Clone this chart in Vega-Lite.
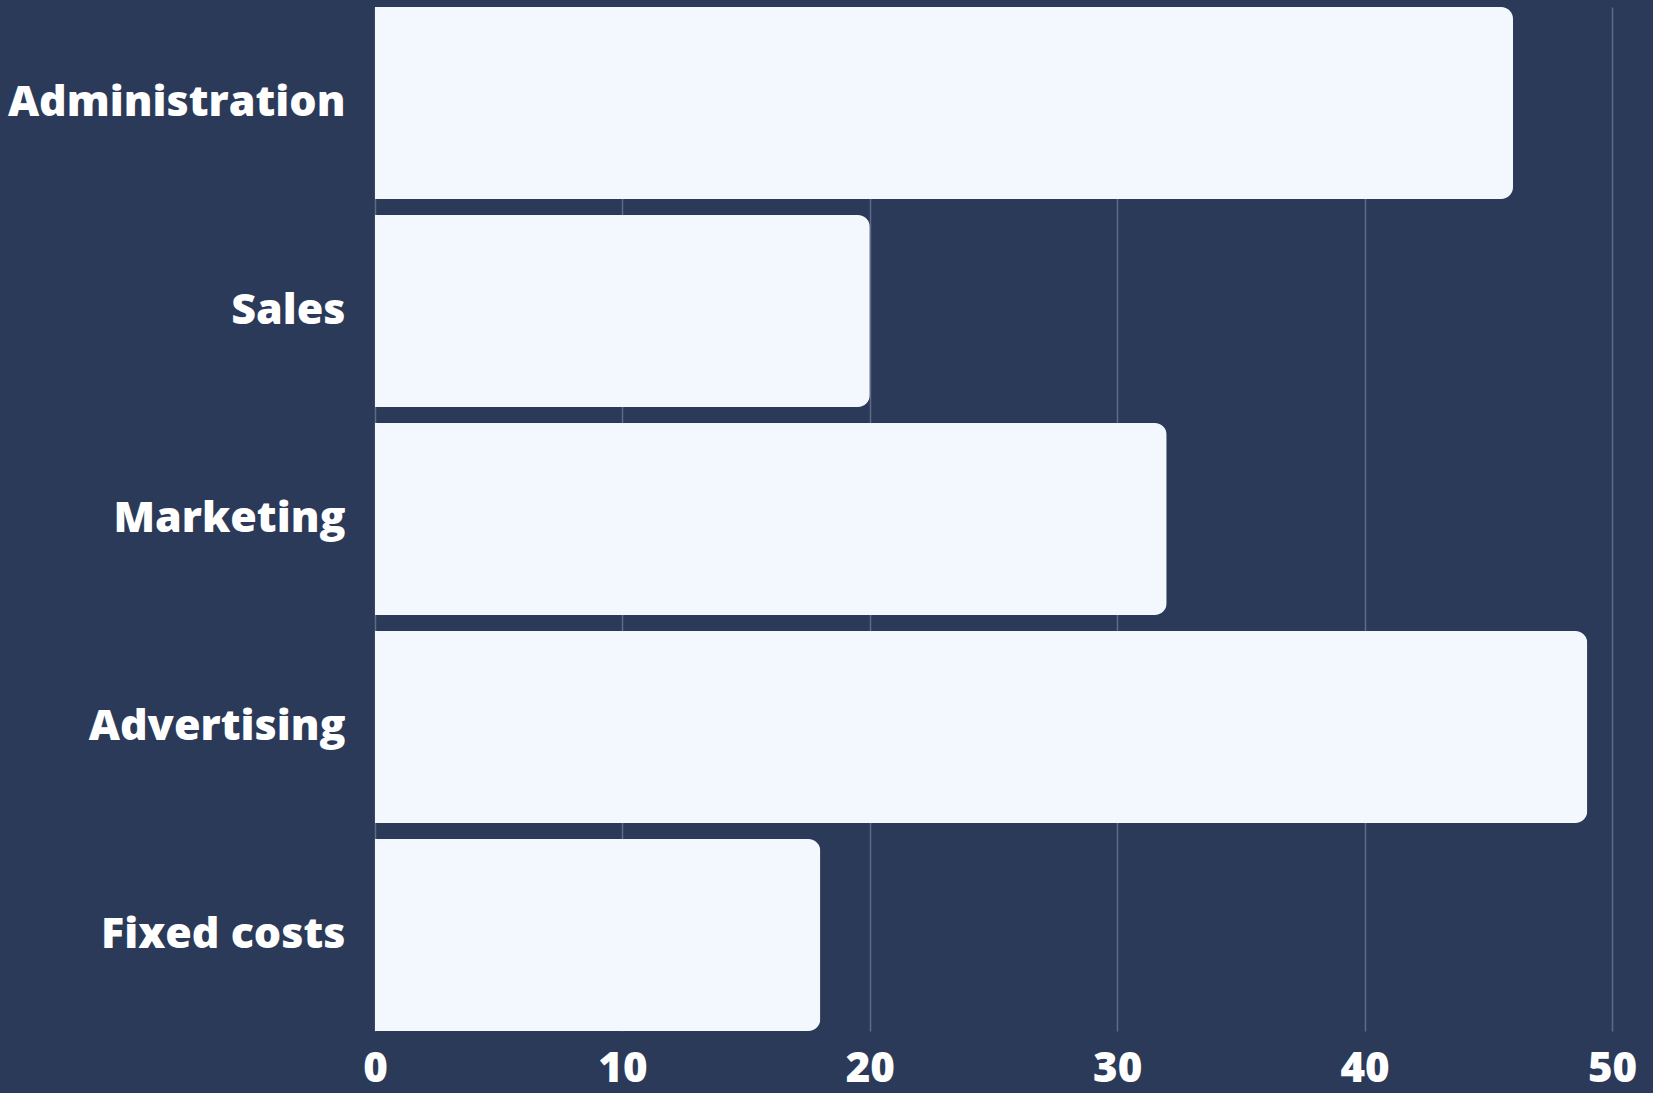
{
  "$schema": "https://vega.github.io/schema/vega-lite/v6.json",
  "width": 1237,
  "height": 1024,
  "autosize": "none",
  "padding": {"left": 375, "top": 7, "right": 41, "bottom": 62},
  "background": "#2b3a58",
  "data": {
    "values": [
      {"category": "Administration", "value": 46},
      {"category": "Sales", "value": 20},
      {"category": "Marketing", "value": 32},
      {"category": "Advertising", "value": 49},
      {"category": "Fixed costs", "value": 18}
    ]
  },
  "mark": {"type": "bar", "color": "#f3f8ff", "cornerRadiusEnd": 12},
  "encoding": {
    "y": {
      "field": "category",
      "type": "nominal",
      "sort": null,
      "scale": {"paddingInner": 0.077, "paddingOuter": 0},
      "axis": {
        "title": null,
        "ticks": false,
        "domain": false,
        "labelPadding": 30,
        "labelLimit": 400,
        "labelColor": "#ffffff",
        "labelFont": "Open Sans",
        "labelFontWeight": 800,
        "labelFontSize": 43
      }
    },
    "x": {
      "field": "value",
      "type": "quantitative",
      "scale": {"domain": [0, 50]},
      "axis": {
        "title": null,
        "values": [0, 10, 20, 30, 40, 50],
        "ticks": false,
        "domain": false,
        "grid": true,
        "gridColor": "#5d6b86",
        "gridWidth": 1.5,
        "labelPadding": 17,
        "labelFlush": false,
        "labelColor": "#ffffff",
        "labelFont": "Open Sans",
        "labelFontWeight": 800,
        "labelFontSize": 42
      }
    }
  },
  "config": {"view": {"stroke": null}}
}
